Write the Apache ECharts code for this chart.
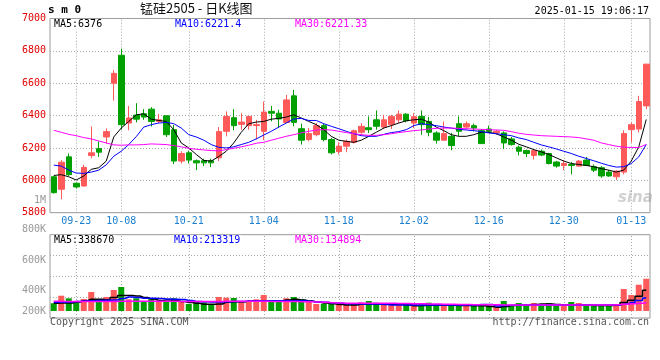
<!DOCTYPE html>
<html><head><meta charset="utf-8">
<script src="https://cdn.jsdelivr.net/npm/echarts@6/dist/echarts.min.js"></script>
<style>html,body{margin:0;padding:0;background:#fff}#c{width:660px;height:360px}</style>
</head><body><div id="c"></div>
<script>
const dates = [
'2024-09-18','2024-09-19','2024-09-20','2024-09-23','2024-09-24','2024-09-25','2024-09-26','2024-09-27','2024-09-30',
'2024-10-08','2024-10-09','2024-10-10','2024-10-11','2024-10-14','2024-10-15','2024-10-16','2024-10-17','2024-10-18',
'2024-10-21','2024-10-22','2024-10-23','2024-10-24','2024-10-25','2024-10-28','2024-10-29','2024-10-30','2024-10-31',
'2024-11-01','2024-11-04','2024-11-05','2024-11-06','2024-11-07','2024-11-08','2024-11-11','2024-11-12','2024-11-13',
'2024-11-14','2024-11-15','2024-11-18','2024-11-19','2024-11-20','2024-11-21','2024-11-22','2024-11-25','2024-11-26',
'2024-11-27','2024-11-28','2024-11-29','2024-12-02','2024-12-03','2024-12-04','2024-12-05','2024-12-06','2024-12-09',
'2024-12-10','2024-12-11','2024-12-12','2024-12-13','2024-12-16','2024-12-17','2024-12-18','2024-12-19','2024-12-20',
'2024-12-23','2024-12-24','2024-12-25','2024-12-26','2024-12-27','2024-12-30','2024-12-31','2025-01-02','2025-01-03',
'2025-01-06','2025-01-07','2025-01-08','2025-01-09','2025-01-10','2025-01-13','2025-01-14','2025-01-15'];
const tickDates = ['2024-09-23','2024-10-08','2024-10-21','2024-11-04','2024-11-18','2024-12-02','2024-12-16','2024-12-30','2025-01-13'];

const opens = [6022,5945,6145,5982,5965,6153,6196,6268,6600,6773, 6354,6403,6411,6440,6364,6399,6313,6119,6170,6121,
6121,6121,6139,6303,6387,6346,6338,6338,6303,6426, 6415,6358,6522,6319,6252,6282,6338,6252,6178,6211,
6235,6297,6325,6374,6329,6344,6374,6409,6354,6395, 6364,6293,6248,6272,6350,6329,6338,6307,6317,6293,
6293,6256,6205,6184,6154,6180,6166,6113,6092,6098, 6088,6125,6084,6078,6051,6022,6051,6313,6317,6460];
const closes = [5924,6112,6035,5959,6080,6170,6174,6301,6661,6344, 6385,6378,6391,6364,6374,6282,6119,6166,6125,6108,
6108,6108,6301,6395,6338,6360,6395,6344,6422,6415, 6379,6497,6358,6248,6289,6338,6252,6170,6211,6241,
6307,6334,6313,6334,6374,6395,6409,6368,6393,6344, 6297,6248,6289,6215,6303,6350,6323,6227,6303,6303,
6231,6221,6180,6166,6184,6156,6104,6088,6104,6092, 6119,6092,6063,6027,6027,6057,6289,6344,6487,6718];
const lows = [5918,5883,6027,5951,5961,6137,6145,6227,6493,6313, 6309,6358,6374,6333,6354,6268,6100,6104,6104,6063,
6088,6082,6119,6272,6309,6313,6313,6252,6248,6364, 6323,6354,6334,6221,6241,6272,6241,6160,6160,6174,
6227,6282,6293,6313,6317,6317,6354,6358,6323,6282, 6272,6227,6248,6186,6272,6313,6303,6225,6293,6282,
6194,6215,6154,6145,6129,6149,6098,6078,6063,6037, 6084,6088,6051,6016,6022,6002,6037,6235,6297,6440];
const highs = [6026,6125,6166,5986,6096,6333,6241,6321,6681,6814, 6460,6477,6440,6452,6411,6399,6342,6180,6184,6129,
6133,6133,6329,6426,6440,6415,6395,6374,6487,6460, 6436,6528,6559,6350,6323,6354,6350,6262,6235,6252,
6313,6354,6395,6432,6405,6405,6432,6415,6415,6432, 6391,6303,6364,6293,6395,6364,6350,6317,6338,6313,
6303,6268,6215,6190,6190,6190,6170,6119,6125,6113, 6125,6145,6098,6088,6063,6063,6309,6358,6522,6718];

const ma5 = [6030,6035,6022,6002,6027,6068,6078,6119,6268,6323, 6364,6405,6411,6378,6370,6364,6313,6231,6200,6160,
6123,6119,6147,6180,6231,6297,6350,6360,6364,6378, 6383,6391,6405,6385,6364,6344,6313,6272,6248,6241,
6235,6248,6272,6297,6323,6338,6354,6368,6374,6378, 6360,6329,6307,6282,6272,6272,6282,6297,6297,6288,
6268,6248,6223,6207,6190,6176,6160,6139,6119,6104, 6098,6092,6084,6072,6063,6051,6063,6119,6207,6376];
const ma10 = [6094,6088,6063,6045,6043,6051,6063,6096,6149,6180, 6221,6270,6329,6344,6354,6358,6350,6323,6282,6268,
6248,6221,6204,6200,6207,6221,6235,6256,6280,6303, 6329,6354,6379,6383,6370,6370,6350,6334,6319,6303,
6288,6276,6272,6272,6284,6295,6301,6313,6338,6350, 6344,6338,6329,6323,6315,6311,6307,6301,6293,6288,
6282,6276,6262,6252,6235,6219,6207,6194,6180,6166, 6149,6135,6121,6106,6092,6082,6084,6104,6145,6221.4];
const ma30 = [6309,6297,6284,6276,6264,6256,6243,6231,6219,6217, 6219,6219,6221,6225,6223,6221,6215,6207,6198,6192,
6188,6184,6182,6190,6198,6207,6217,6229,6235,6248, 6260,6272,6282,6293,6303,6311,6313,6311,6303,6295,
6288,6282,6278,6278,6282,6288,6295,6301,6307,6311, 6317,6321,6323,6323,6321,6319,6317,6315,6313,6311,
6309,6301,6291,6284,6280,6276,6274,6272,6270,6268, 6264,6256,6248,6231,6221,6211,6205,6203,6203,6221.33];

const volumes = [126000,250000,208000,142000,196000,311000,180000,229000,344000,393000,
191000,208000,153000,208000,153000,160000,208000,153000,115000,153000,
140000,100000,229000,218000,213000,153000,150000,191000,262000,158000,
158000,208000,229000,191000,158000,115000,118000,126000,110000,110000,
108000,142000,164000,136000,110000,110000,108000,110000,126000,110000,
136000,100000,105000,110000,105000,110000,105000,100000,90000,55000,
164000,90000,131000,88000,131000,88000,131000,88000,88000,147000,
131000,115000,88000,88000,88000,115000,360000,262000,430000,528000];
const volMa5 = [126000,131000,131000,147000,168000,191000,191000,180000,221000,254000,
254000,245000,221000,196000,172000,180000,172000,155000,139000,126000,
110000,110000,115000,147000,152000,152000,164000,168000,168000,164000,
164000,180000,191000,180000,164000,147000,131000,119000,106000,98000,
98000,115000,115000,115000,110000,110000,110000,98000,87000,90000,
93000,98000,98000,93000,90000,90000,87000,87000,74000,61000,
74000,90000,98000,98000,106000,115000,115000,106000,98000,98000,
98000,98000,90000,90000,90000,93000,140000,175000,240000,338670];
const volMa10 = [142000,142000,147000,155000,164000,168000,172000,175000,180000,204000,
229000,221000,208000,208000,204000,196000,191000,188000,172000,155000,
152000,147000,147000,152000,155000,155000,164000,168000,168000,168000,
168000,168000,168000,168000,159000,147000,142000,136000,126000,119000,
119000,115000,115000,115000,106000,98000,98000,98000,98000,98000,
98000,98000,98000,98000,98000,98000,98000,106000,106000,82000,
90000,93000,93000,98000,98000,98000,98000,98000,98000,98000,
98000,98000,98000,98000,98000,98000,110000,139000,172000,213319];
const volMa30 = [158000,157000,157000,156000,156000,156000,156000,156000,157000,158000,
159000,159000,159000,159000,159000,158000,158000,157000,156000,156000,
156000,156000,157000,158000,158000,158000,158000,158000,158000,157000,
156000,155000,154000,152000,150000,147000,142000,136000,130000,127000,
126000,126000,126000,126000,126000,125000,124000,122000,120000,118000,
116000,114000,112000,110000,108000,106000,104000,103000,102000,101000,
100000,100000,100000,100000,100000,100000,100000,100000,100000,100000,
100000,100000,100000,100000,100000,102000,110000,118000,126000,134894];

const priceTicks = [5800, 7000, 200];
const volTickLabels = [200, 800, 200];
const headerMain = ['MA5:6376', 'MA10:6221.4', 'MA30:6221.33'];
const headerVol = ['MA5:338670', 'MA10:213319', 'MA30:134894'];

const RED = '#ff5a5a', GREEN = '#00a000';
const MONO = 'DejaVu Sans Mono';
const tickSet = new Set(tickDates);
const gridLineStyle = {color: '#a8a8a8', type: [1, 2], width: 1};

function hdr(text, left, top, color) {
  return {text: text, left: left, top: top, padding: [0, 2], backgroundColor: '#fff',
    textStyle: {fontFamily: MONO, fontSize: 10, fontWeight: 'normal', color: color, lineHeight: 10}};
}
function plain(text, pos, style) {
  return Object.assign({text: text, padding: 0, textStyle: Object.assign({fontFamily: MONO, fontSize: 10, fontWeight: 'normal', color: '#000'}, style)}, pos);
}

const volMin = -114520, volMax = 1248268;

const chart = echarts.init(document.getElementById('c'), null, {renderer: 'canvas'});
chart.setOption({
  animation: false,
  backgroundColor: '#fff',
  title: [
    plain('s m 0', {left: 48, top: 5}, {fontWeight: 'bold', fontSize: 11}),
    plain('锰硅2505 - 日K线图', {left: 140, top: 2}, {fontFamily: 'Noto Sans CJK SC', fontSize: 13, color: '#111'}),
    plain('2025-01-15 19:06:17', {right: 11, top: 6}, {}),
    hdr(headerMain[0], 52, 19.5, '#000'),
    hdr(headerMain[1], 173, 19.5, '#0000ff'),
    hdr(headerMain[2], 293, 19.5, '#ff00ff'),
    hdr(headerVol[0], 52, 235.3, '#000'),
    hdr(headerVol[1], 172, 235.3, '#0000ff'),
    hdr(headerVol[2], 293, 235.3, '#ff00ff'),
    plain('1M', {left: 34, top: 195.5}, {color: '#9a9a9a'}),
    plain('Copyright 2025 SINA.COM', {left: 50, top: 317}, {color: '#555'}),
    plain('http://finance.sina.com.cn', {right: 11, top: 317}, {color: '#555'}),
    plain('sina', {left: 618, top: 191}, {fontFamily: 'DejaVu Sans', fontStyle: 'italic', fontWeight: 'bold', fontSize: 15, color: 'rgba(150,150,150,0.45)'})
  ],
  grid: [
    {left: 50, right: 10, top: 18.5, height: 194.2, show: true, borderColor: '#999', borderWidth: 1},
    {left: 50, right: 10, top: 234.7, height: 83.3, show: true, borderColor: '#999', borderWidth: 1},
    {left: 50, right: 10, top: 229.3, height: 92, show: false}
  ],
  xAxis: [
    {type: 'category', gridIndex: 0, data: dates, boundaryGap: true,
      axisLine: {show: false}, axisTick: {show: false}, splitLine: {show: false},
      axisLabel: {interval: function (i, v) { return tickSet.has(v); }, formatter: function (v) { return v.slice(5); },
        color: '#1a7fd0', fontFamily: MONO, fontSize: 10, margin: 4}},
    {type: 'category', gridIndex: 1, data: dates, boundaryGap: true,
      axisLine: {show: false}, axisTick: {show: false}, axisLabel: {show: false}, splitLine: {show: false}},
    {type: 'value', gridIndex: 2, show: false, min: 0, max: 1}
  ],
  yAxis: [
    {type: 'value', gridIndex: 0, min: priceTicks[0], max: priceTicks[1], interval: priceTicks[2],
      axisLine: {show: false}, axisTick: {show: false},
      axisLabel: {color: '#e00000', fontFamily: MONO, fontSize: 10, margin: 4, formatter: function (v) { return String(v); }},
      splitLine: {show: true, lineStyle: gridLineStyle}},
    {type: 'value', gridIndex: 1, min: volMin, max: volMax, interval: (volMax - volMin) / 4,
      axisLine: {show: false}, axisTick: {show: false}, axisLabel: {show: false},
      splitLine: {show: true, lineStyle: gridLineStyle}},
    {type: 'value', gridIndex: 2, min: volTickLabels[0], max: volTickLabels[1], interval: volTickLabels[2],
      axisLine: {show: false}, axisTick: {show: false}, splitLine: {show: false},
      axisLabel: {margin: 4, formatter: function (v) { return v === volTickLabels[0] ? '{a|' + v + 'K}' : '{b|' + v + 'K}'; },
        rich: {a: {color: '#999', fontFamily: MONO, fontSize: 10, padding: [0, 0, 20, 0]},
               b: {color: '#999', fontFamily: MONO, fontSize: 10}}}}
  ],
  series: [
    {type: 'line', xAxisIndex: 0, yAxisIndex: 0, data: [], z: 1, silent: true,
      markLine: {silent: true, symbol: ['none', 'none'], label: {show: false}, z: 1, animation: false,
        lineStyle: gridLineStyle, emphasis: {disabled: true},
        data: tickDates.map(function (d) { return {xAxis: d}; })}},
    {type: 'line', xAxisIndex: 1, yAxisIndex: 1, data: [], z: 1, silent: true,
      markLine: {silent: true, symbol: ['none', 'none'], label: {show: false}, z: 1, animation: false,
        lineStyle: gridLineStyle, emphasis: {disabled: true},
        data: tickDates.map(function (d) { return {xAxis: d}; })}},
    {type: 'candlestick', xAxisIndex: 0, yAxisIndex: 0, barWidth: 6,
      data: opens.map(function (o, i) { return [o, closes[i], lows[i], highs[i]]; }),
      itemStyle: {color: RED, color0: GREEN, borderColor: RED, borderColor0: GREEN, borderWidth: 1}},
    {type: 'line', name: 'MA5', xAxisIndex: 0, yAxisIndex: 0, data: ma5, symbol: 'none', lineStyle: {color: '#000', width: 1}},
    {type: 'line', name: 'MA10', xAxisIndex: 0, yAxisIndex: 0, data: ma10, symbol: 'none', lineStyle: {color: '#0000ff', width: 1}},
    {type: 'line', name: 'MA30', xAxisIndex: 0, yAxisIndex: 0, data: ma30, symbol: 'none', lineStyle: {color: '#ff00ff', width: 1}},
    {type: 'bar', xAxisIndex: 1, yAxisIndex: 1, barWidth: 6,
      data: volumes.map(function (v, i) { return {value: v, itemStyle: {color: closes[i] >= opens[i] ? RED : GREEN}}; })},
    {type: 'line', xAxisIndex: 1, yAxisIndex: 1, data: volMa5, step: 'middle', symbol: 'none', lineStyle: {color: '#000', width: 1.5}},
    {type: 'line', xAxisIndex: 1, yAxisIndex: 1, data: volMa10, step: 'middle', symbol: 'none', lineStyle: {color: '#0000ff', width: 1.5}},
    {type: 'line', xAxisIndex: 1, yAxisIndex: 1, data: volMa30, step: 'middle', symbol: 'none', lineStyle: {color: '#ff00ff', width: 1.5}},
    {type: 'line', xAxisIndex: 2, yAxisIndex: 2, data: [], silent: true}
  ]
});
</script>
</body></html>
